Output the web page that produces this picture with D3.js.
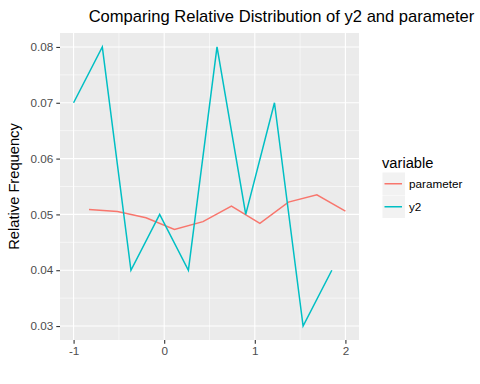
<!DOCTYPE html>
<html>
<head>
<meta charset="utf-8">
<script src="https://cdn.jsdelivr.net/npm/d3@7"></script>
<style>
  body { margin: 0; background: #fff; }
  text { font-family: "Liberation Sans", Arial, sans-serif; }
</style>
</head>
<body>
<script>
// data
const y2X = [-1, -0.683, -0.367, -0.05, 0.267, 0.583, 0.9, 1.217, 1.533, 1.85];
const y2Vals = [0.07, 0.08, 0.04, 0.05, 0.04, 0.08, 0.05, 0.07, 0.03, 0.04];
const paramX = [-0.83, -0.516, -0.201, 0.113, 0.428, 0.742, 1.056, 1.371, 1.685, 2.0];
const paramVals = [0.0509, 0.0505, 0.0494, 0.0473, 0.0487, 0.0515, 0.0484, 0.0522, 0.0535, 0.0506];
const seriesNames = ['parameter', 'y2'];
const seriesColors = ['#F8766D', '#00BFC4'];
const xTicks = [-1, 0, 1, 2];
const yTicks = [0.03, 0.04, 0.05, 0.06, 0.07, 0.08];

const w = 480;
const h = 384;
const panel = { left: 60, right: 359, top: 33, bottom: 340 };

let svg = d3.select('body').append('svg').attr('width', w).attr('height', h);

let x = d3.scaleLinear().domain([-1.15, 2.15]).range([panel.left, panel.right]);
let y = d3.scaleLinear().domain([0.0275, 0.0825]).range([panel.bottom, panel.top]);

// panel background
svg.append('rect')
  .attr('x', panel.left).attr('y', panel.top)
  .attr('width', panel.right - panel.left).attr('height', panel.bottom - panel.top)
  .attr('fill', '#EBEBEB');

// minor grid
const xMinor = [-0.5, 0.5, 1.5];
const yMinor = [0.035, 0.045, 0.055, 0.065, 0.075];
svg.append('g').selectAll('line').data(xMinor).enter().append('line')
  .attr('x1', (d) => x(d)).attr('x2', (d) => x(d))
  .attr('y1', panel.top).attr('y2', panel.bottom)
  .attr('stroke', '#fff').attr('stroke-width', 0.55);
svg.append('g').selectAll('line').data(yMinor).enter().append('line')
  .attr('y1', (d) => y(d)).attr('y2', (d) => y(d))
  .attr('x1', panel.left).attr('x2', panel.right)
  .attr('stroke', '#fff').attr('stroke-width', 0.55);

// major grid
svg.append('g').selectAll('line').data(xTicks).enter().append('line')
  .attr('x1', (d) => x(d)).attr('x2', (d) => x(d))
  .attr('y1', panel.top).attr('y2', panel.bottom)
  .attr('stroke', '#fff').attr('stroke-width', 1.1);
svg.append('g').selectAll('line').data(yTicks).enter().append('line')
  .attr('y1', (d) => y(d)).attr('y2', (d) => y(d))
  .attr('x1', panel.left).attr('x2', panel.right)
  .attr('stroke', '#fff').attr('stroke-width', 1.1);

// series lines
const series = [
  { name: 'parameter', xs: paramX, vals: paramVals },
  { name: 'y2', xs: y2X, vals: y2Vals },
];
const line = d3.line().x((d) => x(d[0])).y((d) => y(d[1]));
series.forEach((s, i) => {
  svg.append('path')
    .datum(s.xs.map((v, j) => [v, s.vals[j]]))
    .attr('d', line)
    .attr('fill', 'none')
    .attr('stroke', seriesColors[i])
    .attr('stroke-width', 1.5);
});

// axes
let xAxis = svg.append('g')
  .attr('transform', 'translate(0,' + panel.bottom + ')')
  .call(d3.axisBottom(x).tickValues(xTicks).tickSize(3.7).tickPadding(3).tickFormat((d) => String(d)));
let yAxis = svg.append('g')
  .attr('transform', 'translate(' + panel.left + ',0)')
  .call(d3.axisLeft(y).tickValues(yTicks).tickSize(3.7).tickPadding(3).tickFormat(d3.format('.2f')));
[xAxis, yAxis].forEach((a) => {
  a.select('.domain').remove();
  a.selectAll('.tick line').attr('stroke', '#333333').attr('stroke-width', 1.1);
  a.selectAll('.tick text').attr('fill', '#4D4D4D').style('font-size', '11.7px')
    .style('font-family', '"Liberation Sans", Arial, sans-serif');
});

// title, fitted to the width seen in the picture
let title = svg.append('text')
  .attr('x', 281.5).attr('y', 22)
  .attr('text-anchor', 'middle')
  .style('font-size', '16px')
  .attr('fill', '#000')
  .text('Comparing Relative Distribution of y2 and parameter');
let tw = title.node().getComputedTextLength();
title.style('font-size', (16 * 386 / tw).toFixed(2) + 'px');

// y axis title
svg.append('text')
  .attr('transform', 'translate(19,' + (panel.top + panel.bottom) / 2 + ') rotate(-90)')
  .attr('text-anchor', 'middle')
  .style('font-size', '14.7px')
  .text('Relative Frequency');

// legend
let legend = svg.append('g').attr('transform', 'translate(382,0)');
legend.append('text')
  .attr('x', 0).attr('y', 168)
  .style('font-size', '14.7px')
  .text('variable');
seriesNames.forEach((n, i) => {
  let ky = 172.5 + i * 23;
  legend.append('rect')
    .attr('x', 0.5).attr('y', ky).attr('width', 22.5).attr('height', 22.5)
    .attr('fill', '#F2F2F2');
  legend.append('line')
    .attr('x1', 2.5).attr('x2', 20).attr('y1', ky + 11.25).attr('y2', ky + 11.25)
    .attr('stroke', seriesColors[i]).attr('stroke-width', 1.5);
  legend.append('text')
    .attr('x', 27).attr('y', ky + 15.5)
    .style('font-size', '11.7px')
    .text(n);
});
</script>
</body>
</html>
